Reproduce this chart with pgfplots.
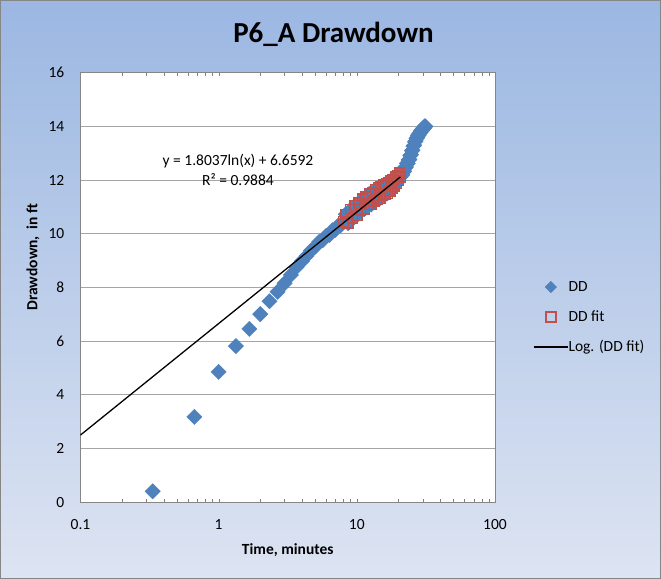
\documentclass[border=0pt]{standalone}
\usepackage{pgfplots}
\pgfplotsset{compat=1.18}
\usepackage{fontspec}
\setmainfont{Carlito}
\definecolor{ddblue}{RGB}{79,129,189}
\definecolor{ddred}{RGB}{192,80,77}
\definecolor{bgtop}{RGB}{155,183,226}
\definecolor{bgbot}{RGB}{221,228,242}
\definecolor{gridgray}{RGB}{165,165,165}
\definecolor{axgray}{RGB}{134,134,134}
\pgfplotsset{
  ddleg/.style={legend image code/.code={\draw[mark repeat=2,mark phase=2,##1,mark size=4bp] plot coordinates {(0bp,0bp) (17bp,0bp) (34bp,0bp)};}},
  fitleg/.style={legend image code/.code={\draw[mark repeat=2,mark phase=2,##1,mark size=5bp] plot coordinates {(0bp,0bp) (17bp,0bp) (34bp,0bp)};}},
  lineleg/.style={legend image code/.code={\draw[##1] (0bp,0bp) -- (34bp,0bp);}},
}
\begin{document}
\begin{tikzpicture}
\path[use as bounding box] (0,0) rectangle (661bp,579bp);
\shade[top color=bgtop, bottom color=bgbot] (0,0) rectangle (661bp,579bp);
\draw[axgray, line width=1bp] (0.5bp,0.5bp) rectangle (660.5bp,578.5bp);
\node[font=\fontsize{29bp}{32bp}\selectfont\bfseries, anchor=base] at (333.5bp,536bp) {P6\_A Drawdown};
\begin{axis}[
  at={(80.5bp,76.7bp)}, anchor=south west, scale only axis,
  width=414.5bp, height=429.5bp,
  xmode=log, xmin=0.1, xmax=100, ymin=0, ymax=16,
  xtick={0.1,1,10,100}, xticklabels={0.1,1,10,100},
  ytick={0,2,...,16},
  minor xtick={}, major tick length=0pt,
  clip marker paths=true,
  ymajorgrids, grid style={gridgray, line width=1bp},
  axis line style={axgray, line width=1bp},
  axis background/.style={fill=white},
  /pgf/number format/assume math mode=true,
  tick label style={font=\fontsize{15.5bp}{18bp}\selectfont, inner sep=0pt},
  yticklabel style={anchor=east, xshift=-16bp},
  xticklabel style={anchor=north, yshift=-17bp},
  xlabel={Time, minutes}, ylabel={Drawdown,\ \ in ft},
  label style={font=\fontsize{15.5bp}{18bp}\selectfont\bfseries},
  x label style={at={(axis description cs:0.5,-0.1204)}, anchor=base},
  y label style={at={(axis description cs:-0.1146,0.571)}, anchor=center},
  legend style={at={(axis description cs:1,0.4314)}, anchor=west, xshift=38bp,
    draw=none, fill=none, font=\fontsize{15.5bp}{18bp}\selectfont, inner sep=0pt,
    row sep=16bp, nodes={inner sep=0pt, text height=11bp, text depth=3bp},
    /tikz/every even column/.append style={column sep=5bp}},
  legend cell align=left,
]
\addplot[only marks, color=ddblue, mark=square*, mark size=5.4bp,
  mark options={rotate=45, fill=ddblue, draw=ddblue}, ddleg]
coordinates {
(0.333,0.41) (0.667,3.18) (1.0,4.86) (1.333,5.82) (1.667,6.46) (2.0,7.01)
(2.333,7.49) (2.667,7.84) (3.0,8.16) (3.333,8.47) (3.667,8.76) (4.0,8.98)
(4.333,9.18) (4.667,9.38) (5.0,9.52) (5.333,9.70) (5.667,9.76) (6.0,9.93)
(6.333,9.96) (6.667,10.13) (7.0,10.15) (7.333,10.31) (7.667,10.33)
(8.0,10.46) (8.333,10.73) (8.667,10.40) (9.0,10.90) (9.333,10.59) (9.667,11.05)
(10.0,10.69) (10.333,11.15) (10.667,10.88) (11.0,11.30) (11.333,10.92) (11.667,11.37)
(12.0,11.09) (12.333,11.49) (12.667,11.09) (13.0,11.54) (13.333,11.23) (13.667,11.66)
(14.0,11.30) (14.333,11.71) (14.667,11.32) (15.0,11.76) (15.333,11.43) (15.667,11.82)
(16.0,11.46) (16.333,11.88) (16.667,11.51) (17.0,11.92) (17.333,11.60) (17.667,11.99)
(18.0,11.69) (18.333,12.03) (18.667,11.79) (19.0,12.12) (19.333,11.88) (19.667,12.18)
(20.0,11.98) (20.333,12.27) (20.667,12.12)
(21.0,12.18) (21.333,12.20) (21.667,12.30) (22.0,12.33) (22.333,12.46) (22.667,12.49)
(23.0,12.62) (23.333,12.62) (23.667,12.75) (24.0,12.77) (24.333,12.92) (24.667,12.95)
(25.0,13.10) (25.333,13.12) (25.667,13.27) (26.0,13.30) (26.333,13.43) (26.667,13.46)
(27.0,13.56) (27.333,13.58) (27.667,13.67) (28.0,13.67) (28.333,13.75) (28.667,13.76)
(29.0,13.83) (29.333,13.82) (29.667,13.89) (30.0,13.88) (30.333,13.95) (30.667,13.94)
(31.0,14.01) (31.333,14.00)
};
\addlegendentry{DD}
\addplot[only marks, color=ddred, mark=square, mark size=5bp,
  mark options={draw=ddred, line width=1.5bp}, fitleg]
coordinates {
(8.0,10.46) (8.333,10.73) (8.667,10.40) (9.0,10.90) (9.333,10.59) (9.667,11.05)
(10.0,10.69) (10.333,11.15) (10.667,10.88) (11.0,11.30) (11.333,10.92) (11.667,11.37)
(12.0,11.09) (12.333,11.49) (12.667,11.09) (13.0,11.54) (13.333,11.23) (13.667,11.66)
(14.0,11.30) (14.333,11.71) (14.667,11.32) (15.0,11.76) (15.333,11.43) (15.667,11.82)
(16.0,11.46) (16.333,11.88) (16.667,11.51) (17.0,11.92) (17.333,11.60) (17.667,11.99)
(18.0,11.69) (18.333,12.03) (18.667,11.79) (19.0,12.12) (19.333,11.88) (19.667,12.18)
(20.0,11.98) (20.333,12.27) (20.667,12.12)
};
\addlegendentry{DD fit}
\addplot[black, line width=1.3bp, no marks, lineleg]
coordinates {(0.1,2.506) (20.667,12.122)};
\addlegendentry{Log. (DD fit)}
\node[font=\fontsize{15.5bp}{18bp}\selectfont] at (rel axis cs:0.38,0.795) {y = 1.8037ln(x) + 6.6592};
\node[font=\fontsize{15.5bp}{18bp}\selectfont] at (rel axis cs:0.38,0.752) {R² = 0.9884};
\end{axis}
\end{tikzpicture}
\end{document}
